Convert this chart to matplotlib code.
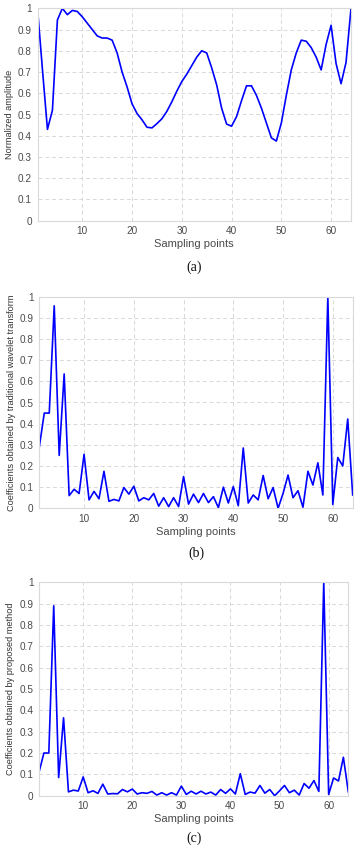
import matplotlib
matplotlib.use("Agg")
import matplotlib.pyplot as plt
import numpy as np

samples = np.arange(1, 65)

amplitude = [1.0, 0.71, 0.43, 0.52, 0.945, 1.0, 0.97, 0.99, 0.985, 0.96,
             0.93, 0.9, 0.87, 0.86, 0.86, 0.85, 0.79, 0.70, 0.63, 0.55,
             0.505, 0.475, 0.44, 0.437, 0.457, 0.48, 0.515, 0.56, 0.61, 0.655,
             0.69, 0.73, 0.77, 0.80, 0.79, 0.72, 0.64, 0.53, 0.455, 0.445,
             0.49, 0.565, 0.635, 0.635, 0.59, 0.53, 0.46, 0.39, 0.375, 0.46,
             0.59, 0.71, 0.79, 0.85, 0.845, 0.815, 0.77, 0.71, 0.83, 0.92,
             0.74, 0.645, 0.745, 1.0]

traditional = [0.29, 0.45, 0.45, 0.957, 0.25, 0.635, 0.06, 0.09, 0.07, 0.255,
               0.04, 0.08, 0.045, 0.175, 0.033, 0.042, 0.035, 0.098, 0.067, 0.104,
               0.035, 0.05, 0.04, 0.07, 0.01, 0.05, 0.008, 0.05, 0.008, 0.15,
               0.02, 0.067, 0.027, 0.07, 0.027, 0.055, 0.003, 0.1, 0.025, 0.103,
               0.012, 0.285, 0.025, 0.063, 0.04, 0.155, 0.045, 0.098, 0.0, 0.07,
               0.157, 0.05, 0.083, 0.005, 0.175, 0.11, 0.215, 0.063, 1.0, 0.018,
               0.24, 0.2, 0.422, 0.063]

proposed = [0.11, 0.2, 0.2, 0.89, 0.085, 0.365, 0.018, 0.026, 0.022, 0.088,
            0.014, 0.023, 0.011, 0.054, 0.008, 0.01, 0.009, 0.029, 0.018, 0.031,
            0.008, 0.014, 0.011, 0.02, 0.003, 0.014, 0.003, 0.014, 0.003, 0.045,
            0.006, 0.021, 0.008, 0.021, 0.008, 0.017, 0.003, 0.029, 0.011, 0.032,
            0.008, 0.103, 0.006, 0.017, 0.012, 0.048, 0.012, 0.029, 0.0, 0.023,
            0.048, 0.014, 0.026, 0.003, 0.057, 0.035, 0.071, 0.02, 1.0, 0.006,
            0.083, 0.069, 0.18, 0.018]

xticks = [10, 20, 30, 40, 50, 60]
yticks = [0, 0.1, 0.2, 0.3, 0.4, 0.5, 0.6, 0.7, 0.8, 0.9, 1.0]
ytick_labels = ["0", "0.1", "0.2", "0.3", "0.4", "0.5", "0.6", "0.7", "0.8", "0.9", "1"]

ylabels = ["Normalized amplitude",
           "Coefficients obtained by traditional wavelet transform",
           "Coefficients obtained by proposed method"]
captions = ["(a)", "(b)", "(c)"]
series = [amplitude, traditional, proposed]

plt.rcParams['font.family'] = ['Liberation Sans', 'DejaVu Sans']

W, H = 359, 855
fig = plt.figure(figsize=(W / 100, H / 100), dpi=100)

# axes boxes in pixels: left, right, top, bottom
boxes = [(37.5, 351.0, 8.3, 220.7),
         (39.3, 352.7, 296.7, 508.3),
         (39.0, 348.3, 582.3, 795.7)]
caption_y = [267, 553, 838]

for k, (l, r, t, b) in enumerate(boxes):
    ax = fig.add_axes([l / W, 1 - b / H, (r - l) / W, (b - t) / H])
    ax.plot(samples, series[k], color='#0000ff', lw=1.2)
    ax.set_xlim(1, 64)
    ax.set_ylim(0, 1)
    ax.set_xticks(xticks)
    ax.set_yticks(yticks)
    ax.set_yticklabels(ytick_labels)
    ax.tick_params(length=0, labelsize=7.2, colors='#4a4a4a', pad=4)
    ax.grid(True, linestyle=(0, (4, 3)), color='#d8d8d8', lw=0.7)
    for s in ax.spines.values():
        s.set_color('#d9d9d9')
        s.set_linewidth(0.8)
    ax.set_xlabel("Sampling points", fontsize=8, color='#4a4a4a', labelpad=2)
    ax.set_ylabel(ylabels[k], fontsize=6.6, color='#333333', labelpad=3)
    fig.text((l + r) / 2 / W, 1 - caption_y[k] / H, captions[k],
             ha='center', va='center', fontsize=10,
             family=['Liberation Serif', 'DejaVu Serif'], color='#111111')

fig.savefig("out.png", dpi=100)
